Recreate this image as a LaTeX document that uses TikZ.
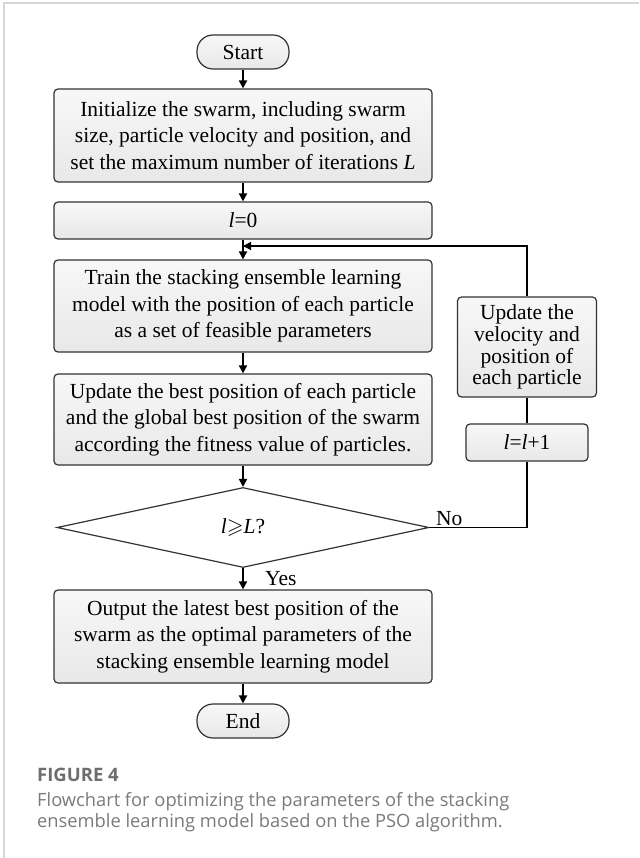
\documentclass[tikz,border=0pt]{standalone}
\usepackage{amssymb}
\usepackage{fontspec}
\setmainfont{Liberation Serif}
\newfontfamily\capfont{Open Sans}
\usetikzlibrary{arrows.meta,shapes.geometric}
\definecolor{boxline}{HTML}{333333}
\definecolor{capgray}{HTML}{6E6E6E}
\definecolor{capgraytxt}{HTML}{7A7A7A}
\definecolor{framegray}{HTML}{D6D6D6}
\tikzset{
  box/.style={draw=boxline, line width=1.2pt, rounded corners=4pt,
    top color=white!97!black, bottom color=white!91!black,
    align=center, inner sep=0pt, font=\fontsize{21.5}{26.7}\selectfont},
  term/.style={box, rounded corners=16pt, minimum width=92pt, minimum height=34pt},
  wide/.style={box, minimum width=378pt},
  arr/.style={line width=1.8pt, -{Triangle[length=8pt,width=8pt]}},
  loopline/.style={line width=1.5pt},
  lbl/.style={font=\fontsize{21.5}{26}\selectfont, inner sep=0pt},
  captxt/.style={anchor=base west, inner sep=0pt, text=capgraytxt,
    font=\capfont\fontsize{18.3}{21.6}\selectfont},
}
\begin{document}
\begin{tikzpicture}[x=1pt,y=-1pt]
\useasboundingbox (0,0) rectangle (639,858);
\draw[framegray, line width=1.5pt] (4,858) -- (4,3) -- (639,3);

\node[term] (start) at (243,52) {Start};
\node[wide, minimum height=93pt] (init) at (243,135.5) {Initialize the swarm, including swarm\\ size, particle velocity and position, and\\ set the maximum number of iterations \textit{L}};
\node[wide, minimum height=37pt] (l0) at (243,220.5) {\textit{l}=0};
\node[wide, minimum height=92pt] (train) at (243,306) {Train the stacking ensemble learning\\ model with the position of each particle\\ as a set of feasible parameters};
\node[wide, minimum height=91pt] (best) at (243,419.5) {Update the best position of each particle\\ and the global best position of the swarm\\ according the fitness value of particles.};
\node[draw=boxline, line width=1.2pt, diamond, minimum width=372pt, minimum height=80pt, inner sep=0pt, fill=white, font=\fontsize{21.5}{26}\selectfont] (dec) at (243,527.5) {\textit{l}$\geqslant$\textit{L}?};
\node[box, minimum width=139pt, minimum height=100pt, font=\fontsize{21.5}{21.7}\selectfont] (vel) at (527,347) {Update the\\ velocity and\\ position of\\ each particle};
\node[box, minimum width=122pt, minimum height=37pt] (inc) at (527,442.5) {\textit{l}=\textit{l}+1};
\node[wide, minimum height=93pt] (out) at (243,636.5) {Output the latest best position of the\\ swarm as the optimal parameters of the\\ stacking ensemble learning model};
\node[term] (end) at (243,721) {End};

\coordinate (fb) at (243,246);
\draw[arr] (start) -- (init);
\draw[arr] (init) -- (l0);
\draw[arr] (l0) -- (train);
\draw[arr] (train) -- (best);
\draw[arr] (best) -- (dec);
\draw[arr] (dec) -- (out);
\draw[arr] (out) -- (end);
\draw[loopline] (dec.east) -| (inc.south);
\draw[loopline] (inc) -- (vel);
\draw[loopline, -{Triangle[length=8pt,width=8pt]}] (vel.north) |- (fb);

\node[lbl, anchor=base west] (no) at (436,525) {No};
\node[lbl, anchor=base west] (yes) at (265,585) {Yes};

\node[anchor=base west, inner sep=0pt, text=capgray, font=\capfont\bfseries\fontsize{18.5}{20}\selectfont] (fig) at (37,781) {FIGURE 4};
\node[captxt] (cap1) at (37,806) {Flowchart for optimizing the parameters of the stacking};
\node[captxt] (cap2) at (37,827.5) {ensemble learning model based on the PSO algorithm.};
\end{tikzpicture}
\end{document}
